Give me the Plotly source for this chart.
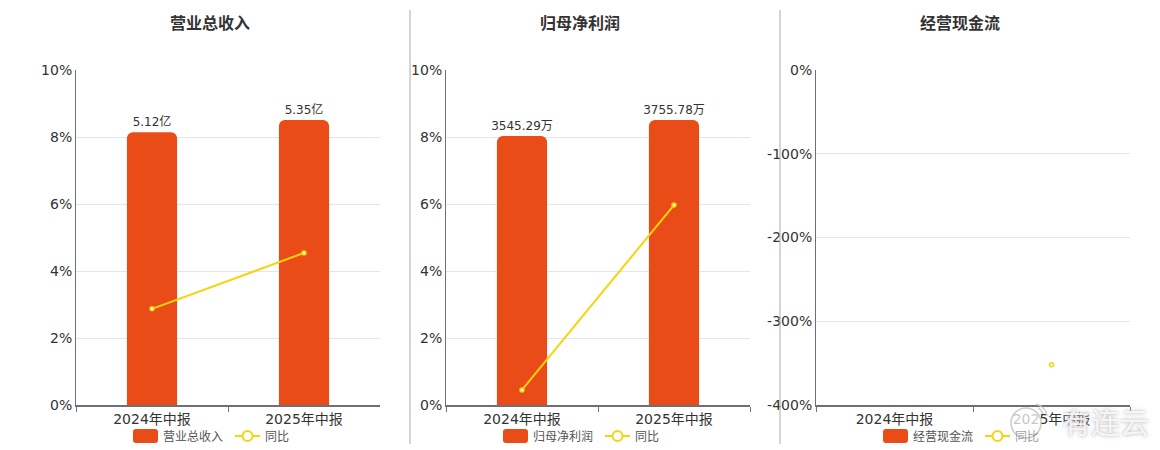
import plotly.graph_objects as go

WIDTH = 1160
HEIGHT = 450
BASE_FONT = "DejaVu Sans, Noto Sans CJK SC, sans-serif"
CJK_FONT = "Noto Sans CJK SC, sans-serif"
BAR_COLOR = "#EA4C18"
LINE_COLOR = "#F9D30B"
AXIS_COLOR = "#6E7079"
GRID_COLOR = "#E0E6F1"
TEXT_COLOR = "#333333"

periods = ["2024年中报", "2025年中报"]
titles = ["营业总收入", "归母净利润", "经营现金流"]
yoy_name = "同比"
watermark = "有连云"

revenue = [5.12, 5.35]
revenue_labels = ["5.12亿", "5.35亿"]
revenue_yoy = [2.87, 4.54]

profit = [3545.29, 3755.78]
profit_labels = ["3545.29万", "3755.78万"]
profit_yoy = [0.45, 5.97]

cashflow = [None, None]
cashflow_labels = ["", ""]
cashflow_yoy = [None, -352]

percent_ticks = [0, 2, 4, 6, 8, 10]
percent_tick_labels = ["0%", "2%", "4%", "6%", "8%", "10%"]
cashflow_ticks = [-400, -300, -200, -100, 0]
cashflow_tick_labels = ["-400%", "-300%", "-200%", "-100%", "0%"]

bar_values = [revenue, profit, cashflow]
bar_labels = [revenue_labels, profit_labels, cashflow_labels]
yoy_values = [revenue_yoy, profit_yoy, cashflow_yoy]
bar_ranges = [6.29, 4414, 1]
yoy_ranges = [[0, 10], [0, 10], [-400, 0]]
yoy_ticks = [percent_ticks, percent_ticks, cashflow_ticks]
yoy_tick_labels = [percent_tick_labels, percent_tick_labels, cashflow_tick_labels]
panel_spans = [(76, 380), (446, 750), (816, 1130)]
title_centers = [210, 580, 960]
legend_lefts = [133, 503, 883]
legend_gap = 102
legend_yoy_opacity = [1, 1, 0.55]  # the last one sits under the watermark logo
dividers = [410, 780]


def px(x):
  return x / WIDTH


def py(y):
  return 1 - y / HEIGHT


def legend_parts(left, name, gap, yoy_opacity):
  """ Swatch, line key and labels of one panel legend, given in pixels. """
  y = 436
  shapes = [
    dict(type="path", xref="paper", yref="paper", fillcolor=BAR_COLOR, line_width=0,
         path=(f"M {px(left + 3)} {py(y - 7)} L {px(left + 22)} {py(y - 7)} "
               f"Q {px(left + 25)} {py(y - 7)} {px(left + 25)} {py(y - 4)} "
               f"L {px(left + 25)} {py(y + 4)} Q {px(left + 25)} {py(y + 7)} {px(left + 22)} {py(y + 7)} "
               f"L {px(left + 3)} {py(y + 7)} Q {px(left)} {py(y + 7)} {px(left)} {py(y + 4)} "
               f"L {px(left)} {py(y - 4)} Q {px(left)} {py(y - 7)} {px(left + 3)} {py(y - 7)} Z")),
    dict(type="line", xref="paper", yref="paper", x0=px(left + gap), x1=px(left + gap + 25),
         y0=py(y), y1=py(y), line=dict(color=LINE_COLOR, width=2)),
    dict(type="circle", xref="paper", yref="paper", fillcolor="white",
         x0=px(left + gap + 7.5), x1=px(left + gap + 17.5), y0=py(y - 5), y1=py(y + 5),
         line=dict(color=LINE_COLOR, width=2)),
  ]
  notes = [
    dict(text=name, xref="paper", yref="paper", x=px(left + 28), y=py(y - 1), xanchor="left", yanchor="middle",
         showarrow=False, font=dict(family=CJK_FONT, size=12, color="#555555")),
    dict(text=yoy_name, xref="paper", yref="paper", x=px(left + gap + 28), y=py(y - 1), xanchor="left",
         yanchor="middle", showarrow=False, opacity=yoy_opacity, font=dict(family=CJK_FONT, size=12, color="#555555")),
  ]
  return shapes, notes


fig = go.Figure()
layout_axes = {}
shapes = []
annotations = []

for i in range(3):
  n = i + 1
  x_name = "x" if i == 0 else f"x{n}"
  y_name = "y" if i == 0 else f"y{n}"
  over_name = f"y{n + 3}"
  left, right = panel_spans[i]

  fig.add_trace(go.Bar(
    x=periods, y=bar_values[i], text=bar_labels[i], textposition="outside", cliponaxis=False,
    constraintext="none", textfont=dict(family=BASE_FONT, size=12, color=TEXT_COLOR),
    marker=dict(color=BAR_COLOR, line_width=0), width=0.33,
    xaxis=x_name, yaxis=y_name, showlegend=False,
  ))
  fig.add_trace(go.Scatter(
    x=periods, y=yoy_values[i], mode="lines+markers", name=yoy_name,
    line=dict(color=LINE_COLOR, width=2),
    marker=dict(size=4, color="white", line=dict(color=LINE_COLOR, width=1.5)),
    xaxis=x_name, yaxis=over_name, showlegend=False, cliponaxis=False,
  ))

  layout_axes[f"xaxis{'' if i == 0 else n}"] = dict(
    domain=[px(left), px(right)], anchor=y_name, type="category", range=[-0.5, 1.5],
    tickson="boundaries", ticks="outside", ticklen=5, tickcolor=AXIS_COLOR,
    showline=True, linecolor=AXIS_COLOR, linewidth=2, showgrid=False,
    tickfont=dict(family=BASE_FONT, size=14, color=TEXT_COLOR),
  )
  layout_axes[f"yaxis{'' if i == 0 else n}"] = dict(
    domain=[py(405), py(70)], anchor=x_name, range=[0, bar_ranges[i]], dtick=bar_ranges[i] / 5 if i < 2 else 0.25,
    showticklabels=False, showgrid=True, gridcolor=GRID_COLOR, gridwidth=1, zeroline=False, ticks="",
  )
  layout_axes[f"yaxis{n + 3}"] = dict(
    domain=[py(405), py(70)], anchor=x_name, overlaying=y_name, side="left",
    range=yoy_ranges[i], tickvals=yoy_ticks[i], ticktext=yoy_tick_labels[i], showgrid=False, zeroline=False,
    showline=True, linecolor=AXIS_COLOR, linewidth=1, ticks="",
    tickfont=dict(family=BASE_FONT, size=14, color=TEXT_COLOR),
  )

  annotations.append(dict(
    text=f"<b>{titles[i]}</b>", xref="paper", yref="paper", x=px(title_centers[i]), y=py(21.5),
    xanchor="center", yanchor="middle", showarrow=False,
    font=dict(family=CJK_FONT, size=16, color=TEXT_COLOR),
  ))
  key_shapes, key_notes = legend_parts(legend_lefts[i], titles[i], legend_gap, legend_yoy_opacity[i])
  shapes += key_shapes
  annotations += key_notes

for x in dividers:
  shapes.append(dict(type="line", xref="paper", yref="paper", x0=px(x), x1=px(x), y0=py(10), y1=py(444),
                     line=dict(color="#AAAAAA", width=1)))

# watermark logo and name in the lower right corner
shapes.append(dict(type="circle", xref="paper", yref="paper", fillcolor="rgba(255,255,255,0.72)",
                   x0=px(1011), x1=px(1041), y0=py(408), y1=py(438),
                   line=dict(color="rgba(190,190,190,0.8)", width=1.5)))
for bend in [(1036, 404, 1046, 407, 1047, 416), (1038, 408, 1042, 410, 1043, 414)]:
  shapes.append(dict(type="path", xref="paper", yref="paper",
                     path=f"M {px(bend[0])} {py(bend[1])} Q {px(bend[2])} {py(bend[3])} {px(bend[4])} {py(bend[5])}",
                     line=dict(color="rgba(200,200,200,0.8)", width=1.5)))
annotations.append(dict(
  text=watermark, xref="paper", yref="paper", x=px(1105), y=py(421), xanchor="center", yanchor="middle",
  showarrow=False, font=dict(family=CJK_FONT, size=29, color="rgba(255,255,255,0.8)",
                             shadow="0px 0px 3px #b5b5b5, 0px 0px 5px #cccccc"),
))

fig.update_layout(
  width=WIDTH, height=HEIGHT, margin=dict(l=0, r=0, t=0, b=0, autoexpand=False), autosize=False,
  paper_bgcolor="white", plot_bgcolor="white", barcornerradius=6,
  shapes=shapes, annotations=annotations, **layout_axes,
)

fig.write_html("out.html", config={"displayModeBar": False},
               post_script="document.body.style.margin='0';document.body.style.overflow='hidden';")
